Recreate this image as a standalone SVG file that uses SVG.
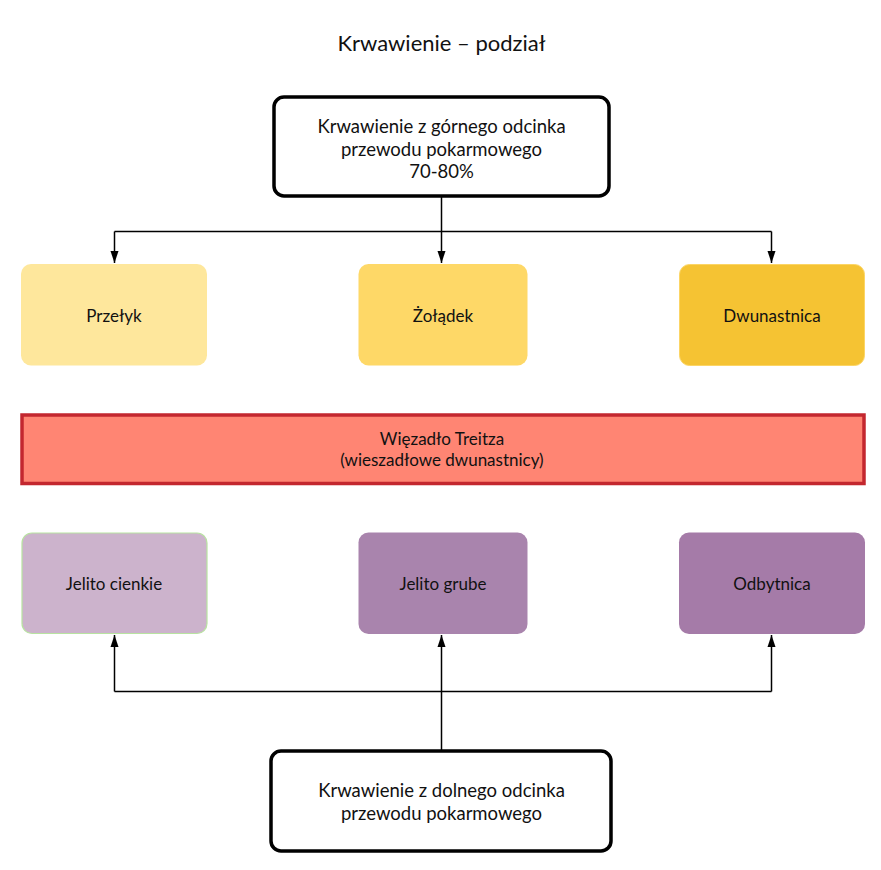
<svg xmlns="http://www.w3.org/2000/svg" width="881" height="870" viewBox="0 0 881 870">
<style>
text{font-family:Lato,"Open Sans","Liberation Sans",sans-serif;fill:#111;text-anchor:middle}
.t{font-size:17px}
.big{font-size:18.5px}
.ttl{font-size:22px}
.main{fill:#fff;stroke:#000;stroke-width:3.5}
.c{fill:none;stroke:#000;stroke-width:1.5}
</style>
<defs>
<marker id="ah" markerWidth="13" markerHeight="10" refX="12" refY="5" orient="auto" markerUnits="userSpaceOnUse">
<path d="M0,1 L12,5 L0,9 Z" fill="#000"/>
</marker>
</defs>
<rect width="881" height="870" fill="#fff"/>
<text class="ttl" x="441.5" y="51">Krwawienie – podział</text>

<g id="connectors">
<path class="c" d="M441.5,197 V231.5 M114.5,231.5 H771.5"/>
<path class="c" d="M114.5,231.5 V263" marker-end="url(#ah)"/>
<path class="c" d="M441.5,231.5 V263" marker-end="url(#ah)"/>
<path class="c" d="M771.5,231.5 V263" marker-end="url(#ah)"/>
<path class="c" d="M441.5,750 V691.5 M114.5,691.5 H771.5"/>
<path class="c" d="M114.5,691.5 V635" marker-end="url(#ah)"/>
<path class="c" d="M441.5,691.5 V635" marker-end="url(#ah)"/>
<path class="c" d="M771.5,691.5 V635" marker-end="url(#ah)"/>
</g>

<g id="upper">
<rect class="main" x="274" y="97" width="335" height="99" rx="10"/>
<text class="big" x="441.5" y="133">Krwawienie z górnego odcinka</text>
<text class="big" x="441.5" y="155.5">przewodu pokarmowego</text>
<text class="big" x="441.5" y="177.5">70-80%</text>
</g>

<g id="przelyk">
<rect x="21" y="264" width="186" height="101.5" rx="10" fill="#fee79c"/>
<text class="t" x="114" y="322">Przełyk</text>
</g>
<g id="zoladek">
<rect x="358.5" y="264" width="169" height="101.5" rx="10" fill="#fed867"/>
<text class="t" x="443" y="322">Żołądek</text>
</g>
<g id="dwunastnica">
<rect x="679.5" y="264.5" width="185" height="101" rx="10" fill="#f5c333" stroke="#fcd565" stroke-width="1"/>
<text class="t" x="772" y="322">Dwunastnica</text>
</g>

<g id="treitz">
<rect x="22" y="415" width="842" height="68.5" fill="#ff8573" stroke="#c3272f" stroke-width="3.5"/>
<text class="t" x="442" y="445">Więzadło Treitza</text>
<text class="t" x="442" y="465.5">(wieszadłowe dwunastnicy)</text>
</g>

<g id="jelito-cienkie">
<rect x="22" y="533" width="185" height="100.5" rx="10" fill="#ccb3cc" stroke="#b8e3a1" stroke-width="1.2"/>
<text class="t" x="114" y="590">Jelito cienkie</text>
</g>
<g id="jelito-grube">
<rect x="358.5" y="532.5" width="169" height="101.5" rx="10" fill="#a984ad"/>
<text class="t" x="443" y="590">Jelito grube</text>
</g>
<g id="odbytnica">
<rect x="679" y="532.5" width="186" height="101.5" rx="10" fill="#a57ba8"/>
<text class="t" x="772" y="590">Odbytnica</text>
</g>

<g id="lower">
<rect class="main" x="271" y="751" width="340" height="100" rx="10"/>
<text class="big" x="441.5" y="797">Krwawienie z dolnego odcinka</text>
<text class="big" x="441.5" y="820">przewodu pokarmowego</text>
</g>
</svg>
